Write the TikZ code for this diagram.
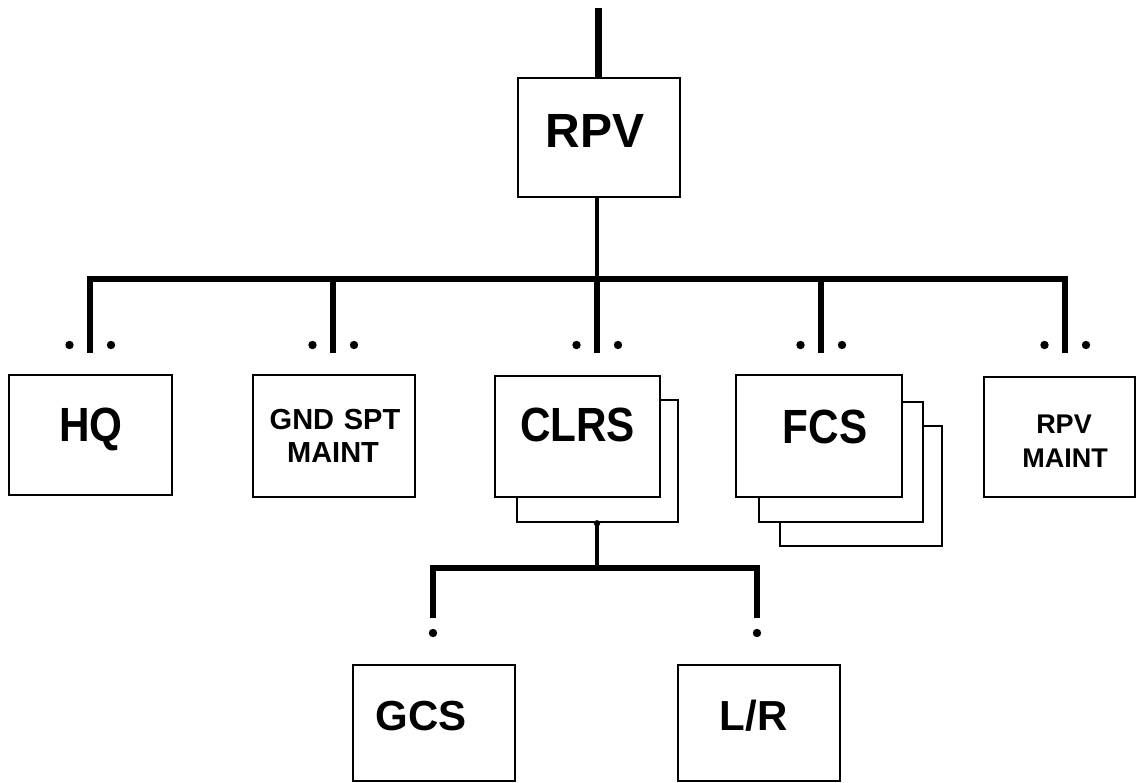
\documentclass[tikz,border=0pt]{standalone}
\usepackage{fontspec}
\newfontfamily\lblfont[FakeStretch=0.88]{Liberation Sans}
\newfontfamily\lblfontw{Liberation Sans}
\begin{document}
\begin{tikzpicture}[x=1pt,y=-1pt,
  box/.style={draw, line width=2.6pt, fill=white, inner sep=0pt, minimum width=162pt, minimum height=120pt},
  shadowbox/.style={draw, line width=2.6pt, fill=white, inner sep=0pt},
  bus/.style={line width=5.3pt},
  bigtxt/.style={inner sep=0pt, anchor=base, font=\lblfont\bfseries\fontsize{48}{48}\selectfont},
  widetxt/.style={inner sep=0pt, anchor=base, font=\lblfontw\bfseries\fontsize{48}{48}\selectfont},
  midtxt/.style={inner sep=0pt, anchor=base, font=\lblfontw\bfseries\fontsize{42}{42}\selectfont},
  smalltxt/.style={inner sep=0pt, anchor=base, font=\lblfontw\bfseries\fontsize{29}{29}\selectfont},
  tinytxt/.style={inner sep=0pt, anchor=base, font=\lblfontw\bfseries\fontsize{27}{27}\selectfont},
  dot/.style={fill=black}
]
\useasboundingbox (0,0) rectangle (1138,783);

% boxes
\node[box, minimum height=119pt] (rpv) at (599,137.5) {};
\node[box, minimum width=163pt] (hq) at (90.5,435) {};
\node[box, minimum height=122pt] (gnd) at (334,436) {};
\node[shadowbox, minimum width=161pt, minimum height=122pt] (clrss) at (597.5,461) {};
\node[box, minimum width=165pt, minimum height=121pt] (clrs) at (577.5,436.5) {};
\node[shadowbox, minimum width=162pt, minimum height=120pt] (fcss2) at (861,486) {};
\node[shadowbox, minimum width=164pt, minimum height=120pt] (fcss1) at (841,462) {};
\node[box, minimum width=166pt, minimum height=122pt] (fcs) at (819,436) {};
\node[box, minimum width=151pt] (rpvm) at (1059.5,437) {};
\node[box, minimum height=116pt] (gcs) at (434,723) {};
\node[box, minimum height=116pt] (lr) at (759,723) {};

% texts
\node[widetxt] (rpvt) at (595,148) {RPV};
\node[bigtxt] (hqt) at (91,442) {HQ};
\node[smalltxt] (gndt1) at (335,430) {GND\,\,SPT};
\node[smalltxt] (gndt2) at (333,462) {MAINT};
\node[bigtxt] (clrst) at (577.5,442) {CLRS};
\node[bigtxt] (fcst) at (825,443) {FCS};
\node[tinytxt] (rpvmt1) at (1064,434) {RPV};
\node[tinytxt] (rpvmt2) at (1065,467) {MAINT};
\node[midtxt] (gcst) at (421,730) {GCS};
\node[midtxt] (lrt) at (753.5,730) {L/R};

% connector coordinates
\coordinate (top) at (598,8);
\coordinate (bl) at (90,279);
\coordinate (br) at (1065,279);
\coordinate (e1) at (90,353);
\coordinate (e2) at (333,353);
\coordinate (e3) at (597,353);
\coordinate (e4) at (821,353);
\coordinate (e5) at (1065,353);
\coordinate (sl) at (433,568);
\coordinate (sr) at (757,568);
\coordinate (g1) at (433,618);
\coordinate (g2) at (757,618);

% connectors
\draw[line width=7pt] (top) -- (rpv.north -| top);
\draw[line width=4.6pt] (rpv.south -| e3) -- (e3 |- bl);
\draw[bus] (e1) |- (br) -- (e5);
\draw[bus] (e2) -- (e2 |- bl);
\draw[bus] (e3) -- (e3 |- bl);
\draw[bus] (e4) -- (e4 |- bl);
\draw[line width=4.6pt] (clrss.south -| e3) -- (e3 |- sl);
\fill[dot] (clrss.south -| e3) circle (3.2pt);
\draw[bus] (g1) -- (sl) -- (sr) -- (g2);

% dots
\foreach \e in {e1,e2,e3,e4,e5}{
  \fill[dot] ([xshift=-20.5pt,yshift=8pt]\e) circle (4.2pt);
  \fill[dot] ([xshift=21pt,yshift=8pt]\e) circle (4.2pt);
}
\fill[dot] ([yshift=-15pt]g1) circle (4.2pt);
\fill[dot] ([yshift=-15pt]g2) circle (4.2pt);
\end{tikzpicture}
\end{document}
